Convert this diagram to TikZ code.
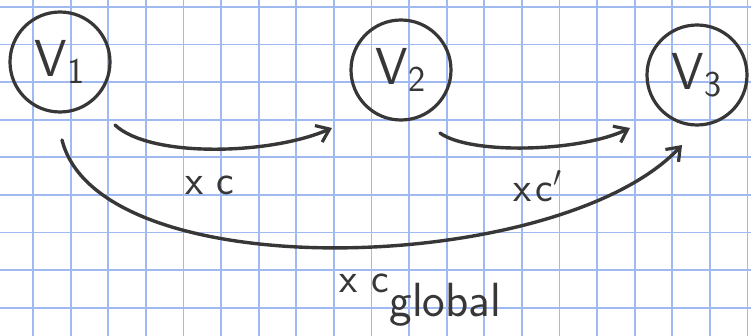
\documentclass[tikz,border=0pt]{standalone}
\usepackage{fontspec}
\usetikzlibrary{arrows.meta}
\definecolor{gridblue}{RGB}{160,185,240}
\definecolor{ink}{RGB}{55,55,55}
\begin{document}
\begin{tikzpicture}[x=0.5pt,y=-0.5pt,
  gridline/.style={gridblue,line width=0.9pt},
  vert/.style={circle,draw=ink,line width=1.6pt,minimum size=50pt,inner sep=0pt,text=ink,font=\sffamily\fontsize{26}{28}\selectfont},
  arr/.style={draw=ink,line width=1.7pt,line cap=round,-{Straight Barb[length=6pt,width=9pt,line width=1.6pt]}},
  lbl/.style={text=ink,font=\sffamily\fontsize{21}{23}\selectfont,inner sep=0pt}]
\fill[white] (0,0) rectangle (751,336);
\useasboundingbox (0,0) rectangle (751,336);
\foreach \i in {0,...,19} \draw[gridline] ({33+37.6*\i},0) -- ({33+37.6*\i},336);
\foreach \j in {0,...,8} \draw[gridline] (0,{7+37.6*\j}) -- (751,{7+37.6*\j});
\node[vert] (v1) at (60,62) {V\textsubscript{1}};
\node[vert] (v2) at (401,70) {V\textsubscript{2}};
\node[vert] (v3) at (697,75) {V\textsubscript{3}};
\coordinate (a1s) at ([shift={(55,63)}]v1.center);
\coordinate (a1e) at ([shift={(-69,58)}]v2.center);
\coordinate (a2s) at ([shift={(39,63)}]v2.center);
\coordinate (a2e) at ([shift={(-67,53)}]v3.center);
\coordinate (a3s) at ([shift={(2,78)}]v1.center);
\coordinate (a3e) at ([shift={(-15,70)}]v3.center);
\draw[arr] (a1s) .. controls (150,158) and (270,155) .. (a1e);
\draw[arr] (a2s) .. controls (470,155) and (580,152) .. (a2e);
\draw[arr] (a3s) .. controls (100,290) and (560,275) .. (a3e);
\node[lbl] (l1) at (210,185) {x\hspace{0.3em}c};
\node[lbl] (l2) at (538,186) {x\hspace{0.1em}c$'$};
\node[lbl] (l3) at (420,300) {x\hspace{0.35em}c{\fontsize{24}{26}\selectfont\raisebox{-0.5em}{global}}};
\end{tikzpicture}
\end{document}
